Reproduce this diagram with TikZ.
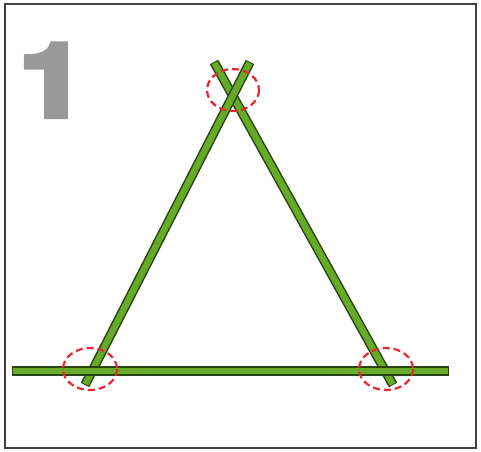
\documentclass[tikz,border=0pt]{standalone}
\usepackage{fontspec}
\setmainfont{Liberation Sans}
\newfontfamily\digitfont{TeX Gyre Heros}[BoldFeatures={FakeBold=6}]
\usetikzlibrary{calc}
\definecolor{stickfill}{HTML}{66AA28}
\definecolor{stickedge}{HTML}{28450E}
\definecolor{digitgray}{HTML}{999999}
\definecolor{ringred}{HTML}{E8282E}
\tikzset{
  stickout/.style={line width=9.5pt, draw=stickedge, line cap=butt},
  stickin/.style={line width=6.5pt, draw=stickfill, line cap=butt},
  ring/.style={draw=ringred, line width=2.2pt, dash pattern=on 7pt off 4pt}
}
\begin{document}
\begin{tikzpicture}[x=1pt,y=-1pt]
\useasboundingbox (0,0) rectangle (481,451);
\fill[white] (0,0) rectangle (481,451);
\draw[line width=2pt, draw=black!75] (5,4) rectangle (476,448);
% digit
\node[font=\digitfont\bfseries\fontsize{101}{101}\selectfont, text=digitgray, anchor=base west, inner sep=0pt, xscale=1.18, transform shape] (digit) at (19,116) {1};
% stick coordinates
\coordinate (LT) at (250,62);
\coordinate (LB) at (85,385);
\coordinate (RT) at (214,62);
\coordinate (RB) at (393,385);
\coordinate (HL) at (12,371);
\coordinate (HR) at (449,371);
% legs
\draw[stickout] (RT) -- (RB);
\draw[stickin] ($(RT)!1pt!(RB)$) -- ($(RB)!1pt!(RT)$);
\draw[stickout] (LT) -- (LB);
\draw[stickin] ($(LT)!1pt!(LB)$) -- ($(LB)!1pt!(LT)$);
% horizontal
\draw[stickout] (HL) -- (HR);
\draw[stickin] (13,371) -- (448,371);
% rings
\draw[ring] (233,90) ellipse [x radius=26, y radius=21];
\draw[ring] (90,369) ellipse [x radius=27, y radius=21];
\draw[ring] (386,369) ellipse [x radius=27, y radius=21];
\end{tikzpicture}
\end{document}
